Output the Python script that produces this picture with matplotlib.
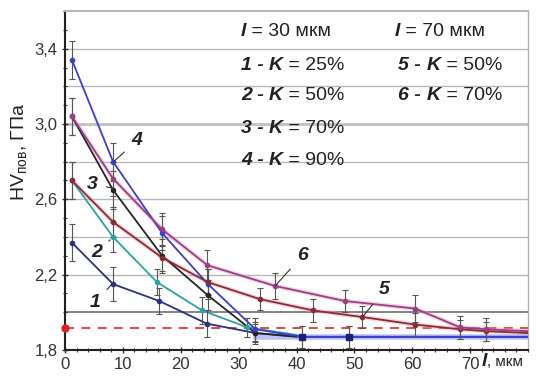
import matplotlib
matplotlib.use("Agg")
import matplotlib.pyplot as plt
from matplotlib.ticker import MultipleLocator, FixedLocator, FuncFormatter

plt.rcParams['font.family'] = ['Liberation Sans', 'DejaVu Sans']
plt.rcParams['mathtext.fontset'] = 'custom'
plt.rcParams['mathtext.rm'] = 'Liberation Sans'

# ---- data ----
x1 = [1.2, 8.3, 16.3, 24.5, 32.9, 41.0, 49.0, 80.0]
y1 = [2.37, 2.15, 2.06, 1.94, 1.89, 1.87, 1.87, 1.87]
e1 = [0.10, 0.09, 0.07, 0.07, 0.05, 0.06, 0.06, 0.0]

x2 = [1.2, 8.3, 15.9, 23.7, 31.5, 40.0]
y2 = [2.70, 2.40, 2.16, 2.01, 1.92, 1.88]
e2 = [0.10, 0.08, 0.07, 0.07, 0.05, 0.0]

x3 = [1.2, 8.3, 16.8, 24.7, 32.9, 40.0]
y3 = [3.04, 2.65, 2.30, 2.09, 1.89, 1.87]
e3 = [0.10, 0.10, 0.09, 0.08, 0.06, 0.0]

x4 = [1.2, 8.3, 16.8, 24.7, 32.9, 41.0, 49.0, 80.0]
y4 = [3.34, 2.80, 2.42, 2.15, 1.91, 1.87, 1.87, 1.87]
e4 = [0.10, 0.10, 0.09, 0.08, 0.06, 0.06, 0.06, 0.0]

x5 = [1.2, 8.3, 16.8, 24.7, 33.7, 42.9, 51.4, 60.5, 68.3, 72.7, 80.0]
y5 = [2.70, 2.48, 2.29, 2.16, 2.07, 2.01, 1.975, 1.935, 1.91, 1.90, 1.89]
e5 = [0.10, 0.08, 0.07, 0.07, 0.06, 0.06, 0.06, 0.06, 0.05, 0.05, 0.0]

x6 = [1.2, 8.3, 16.8, 24.6, 36.3, 48.4, 60.5, 68.3, 72.7, 80.0]
y6 = [3.04, 2.71, 2.44, 2.25, 2.14, 2.06, 2.02, 1.92, 1.91, 1.90]
e6 = [0.10, 0.09, 0.09, 0.08, 0.07, 0.06, 0.07, 0.06, 0.06, 0.0]

base_level = 1.917

y_ticks = [1.8, 2.2, 2.6, 3.0, 3.4]
x_ticks = [0, 10, 20, 30, 40, 50, 60, 70]

colors = {1: '#2b2f86', 2: '#2aa59c', 3: '#262626', 4: '#3b3fd0',
          5: '#8c2c2c', 6: '#9a3f86'}

fig = plt.figure(figsize=(5.36, 3.8), dpi=100)
ax = fig.add_axes([65/536, 30/380, 463/536, 339/380])
ax.set_xlim(0, 80)
ax.set_ylim(1.8, 3.6)

# grid lines
for g in [2.2, 2.4, 2.6, 2.8, 3.2, 3.4]:
    ax.axhline(g, color='#b8b8b8', lw=1.0, zorder=0)
ax.axhline(3.0, color='#c4c4c4', lw=2.2, zorder=0)
ax.axhline(2.0, color='#707070', lw=1.2, zorder=0)

# base level (red dashed)
ax.axhline(base_level, color='#e03a3a', lw=1.3, ls=(0, (5, 4)), zorder=1)
ax.plot([0], [base_level], 'o', color='#e02020', ms=5, clip_on=False, zorder=6)

series = [(1, x1, y1, e1), (2, x2, y2, e2), (3, x3, y3, e3),
          (4, x4, y4, e4), (5, x5, y5, e5), (6, x6, y6, e6)]
for k, xs, ys, es in series:
    c = colors[k]
    if k in (5, 6):
        ax.plot(xs, ys, color='#e6a0c0', lw=3.2, alpha=0.45, zorder=2)
    ax.plot(xs, ys, color=c, lw=1.3, zorder=3)
    xe = [a for a, e in zip(xs, es) if e > 0]
    ye = [b for b, e in zip(ys, es) if e > 0]
    ee = [e for e in es if e > 0]
    ax.errorbar(xe, ye, yerr=ee, fmt='o', color=c, ms=3, elinewidth=0.8,
                ecolor='#555555', capsize=2, capthick=0.8, zorder=4)

# plateau of the l = 30 curves
ax.plot([33, 80], [1.87, 1.87], color='#8f9cf0', lw=4, alpha=0.6, zorder=2)
ax.plot([41.0, 49.0], [1.87, 1.87], 's', color='#1c1f7a', ms=5, zorder=5)

# curve labels with leaders
lab_kw = dict(fontsize=14, fontweight='bold', fontstyle='italic', color='#222222')
labels = [('1', (5.2, 2.05), (8.1, 2.15)),
          ('2', (5.4, 2.32), (7.8, 2.385)),
          ('3', (4.8, 2.68), (8.2, 2.66)),
          ('4', (12.4, 2.91), (8.4, 2.80)),
          ('6', (41.0, 2.30), (36.3, 2.14)),
          ('5', (55.2, 2.12), (51.4, 1.975))]
for t, (tx, ty), (px, py) in labels:
    ax.annotate(t, xy=(px, py), xytext=(tx, ty), ha='center', va='center',
                arrowprops=dict(arrowstyle='-', color='#333333', lw=0.8,
                                shrinkA=4, shrinkB=0), zorder=7, **lab_kw)

# axes styling
ax.yaxis.set_major_locator(FixedLocator(y_ticks))
ax.yaxis.set_minor_locator(MultipleLocator(0.1))
ax.xaxis.set_major_locator(FixedLocator(x_ticks))
ax.xaxis.set_minor_locator(MultipleLocator(2))
ax.yaxis.set_major_formatter(FuncFormatter(lambda v, p: f"{v:.1f}".replace('.', ',')))
ax.xaxis.set_major_formatter(FuncFormatter(lambda v, p: f"{v:.0f}"))
ax.tick_params(axis='both', which='major', labelsize=12, length=4, width=1,
               direction='inout', colors='#333333', labelcolor='#333333')
ax.tick_params(axis='both', which='minor', length=3, width=0.8,
               direction='inout', colors='#333333')
ax.tick_params(axis='x', pad=3)
for s in ['left', 'bottom']:
    ax.spines[s].set_linewidth(1.5)
    ax.spines[s].set_color('#222222')
ax.spines['right'].set_color('#b0b0b0')
ax.spines['top'].set_color('#b8b8b8')
ax.spines['right'].set_linewidth(1.0)
ax.spines['top'].set_linewidth(1.5)

# y label
fig.text(20/536, 1 - 152/380, r'HV$_{\mathregular{пов}}$, ГПа', rotation=90, ha='center',
         va='center', fontsize=14, color='#222222')

# x label
tl = fig.text(482/536, 1 - 362/380, 'l', fontsize=14, fontweight='bold',
              fontstyle='italic', color='#222222', ha='left', va='center')
ax.annotate(', мкм', xy=(1, 0.5), xycoords=tl, va='center', ha='left',
            fontsize=11, color='#222222', annotation_clip=False)

# legend block
def row(x, y, parts):
    prev = None
    for txt, bi in parts:
        kw = dict(fontsize=14, color='#222222')
        if bi:
            kw.update(fontweight='bold', fontstyle='italic')
        if prev is None:
            prev = ax.text(x, y, txt, transform=ax.transData, ha='left', va='center', **kw)
        else:
            prev = ax.annotate(txt, xy=(1, 0), xycoords=prev, ha='left', va='bottom',
                               **kw)

yk = [3.49, 3.31, 3.15, 2.975, 2.805]
row(30.4, yk[0], [('l', True), (' = 30 мкм', False)])
row(30.4, yk[1], [('1 - ', True), ('K', True), (' = 25%', False)])
row(30.4, yk[2], [('2 - ', True), ('K', True), (' = 50%', False)])
row(30.4, yk[3], [('3 - ', True), ('K', True), (' = 70%', False)])
row(30.4, yk[4], [('4 - ', True), ('K', True), (' = 90%', False)])
row(57.0, yk[0], [('l', True), (' = 70 мкм', False)])
row(57.6, yk[1], [('5 - ', True), ('K', True), (' = 50%', False)])
row(57.6, yk[2], [('6 - ', True), ('K', True), (' = 70%', False)])

fig.savefig('out.png', dpi=100)
